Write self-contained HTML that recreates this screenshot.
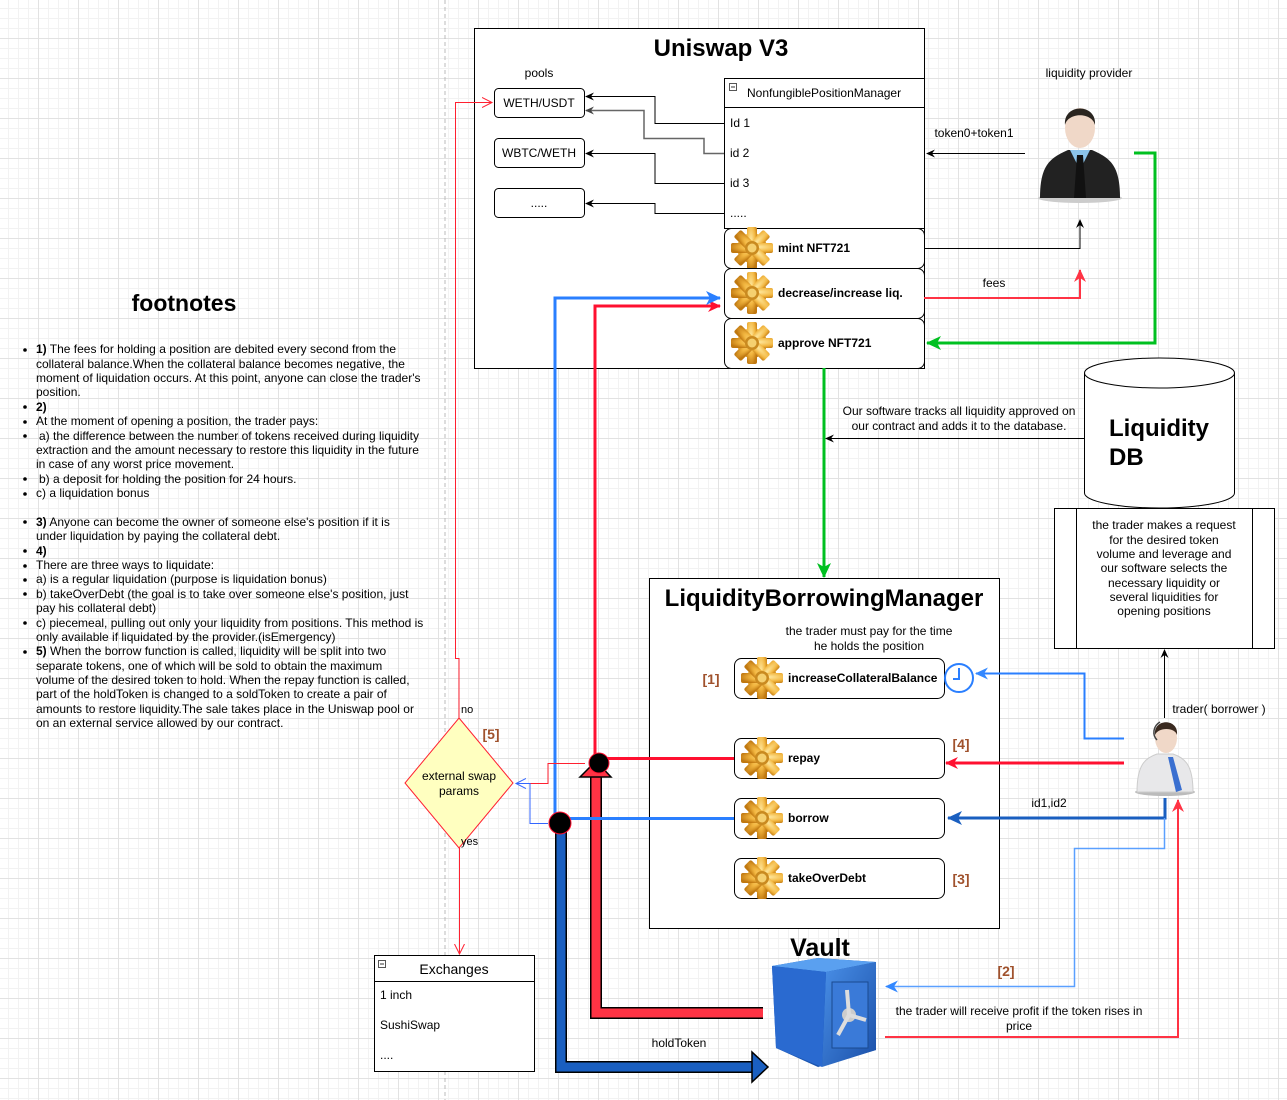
<!DOCTYPE html>
<html><head><meta charset="utf-8"><style>
html,body{margin:0;padding:0;}
body{width:1287px;height:1100px;overflow:hidden;background-color:#fff;
background-image:linear-gradient(#e2e2e2 1px,transparent 1px),linear-gradient(90deg,#e2e2e2 1px,transparent 1px),linear-gradient(#f2f2f2 1px,transparent 1px),linear-gradient(90deg,#f2f2f2 1px,transparent 1px);
background-size:40px 40px,40px 40px,10px 10px,10px 10px;background-position:-2px -2px;}
svg{position:absolute;left:0;top:0;font-family:"Liberation Sans",sans-serif;}
</style></head><body>
<svg width="1287" height="1100" viewBox="0 0 1287 1100">
<defs>
<radialGradient id="gg" cx="40%" cy="35%" r="70%"><stop offset="0" stop-color="#ffe9a0"/><stop offset="0.6" stop-color="#f2b640"/><stop offset="1" stop-color="#c07810"/></radialGradient>
<g id="gear">
<g fill="url(#gg)">
<circle cx="0" cy="0" r="15"/>
<rect x="-5" y="-21" width="10" height="42" rx="2"/>
<rect x="-5" y="-21" width="10" height="42" rx="2" transform="rotate(45)"/>
<rect x="-5" y="-21" width="10" height="42" rx="2" transform="rotate(90)"/>
<rect x="-5" y="-21" width="10" height="42" rx="2" transform="rotate(135)"/>
</g>
<circle cx="0" cy="0" r="7" fill="#c98a20"/><circle cx="0" cy="0" r="4.5" fill="#f5d070"/>
</g>
<marker id="ab" markerWidth="10" markerHeight="10" refX="8" refY="5" orient="auto" markerUnits="userSpaceOnUse"><path d="M0,1 L9,5 L0,9 L3,5z" fill="#000"/></marker>
<marker id="ag" markerWidth="10" markerHeight="10" refX="8" refY="5" orient="auto" markerUnits="userSpaceOnUse"><path d="M0,1 L9,5 L0,9 L3,5z" fill="#444"/></marker>
<marker id="ar" markerWidth="14" markerHeight="14" refX="12" refY="7" orient="auto" markerUnits="userSpaceOnUse"><path d="M0,1 L13,7 L0,13 L4,7z" fill="#ff1030"/></marker>
<marker id="arl" markerWidth="14" markerHeight="14" refX="12" refY="7" orient="auto" markerUnits="userSpaceOnUse"><path d="M0,1 L13,7 L0,13 L4,7z" fill="#ff3344"/></marker>
<marker id="agr" markerWidth="16" markerHeight="16" refX="14" refY="8" orient="auto" markerUnits="userSpaceOnUse"><path d="M0,1 L15,8 L0,15 L4,8z" fill="#00c020"/></marker>
<marker id="abl" markerWidth="16" markerHeight="16" refX="14" refY="8" orient="auto" markerUnits="userSpaceOnUse"><path d="M0,1 L15,8 L0,15 L4,8z" fill="#2a7fff"/></marker>
<marker id="abd" markerWidth="16" markerHeight="16" refX="14" refY="8" orient="auto" markerUnits="userSpaceOnUse"><path d="M0,1 L15,8 L0,15 L4,8z" fill="#1a5fc0"/></marker>
<marker id="abt" markerWidth="14" markerHeight="14" refX="12" refY="7" orient="auto" markerUnits="userSpaceOnUse"><path d="M0,1 L13,7 L0,13 L4,7z" fill="#3388ff"/></marker>
<marker id="open" markerWidth="12" markerHeight="12" refX="10" refY="6" orient="auto" markerUnits="userSpaceOnUse"><path d="M0,1 L10,6 L0,11" fill="none" stroke="#ff2030"/></marker>
<marker id="openb" markerWidth="12" markerHeight="12" refX="10" refY="6" orient="auto" markerUnits="userSpaceOnUse"><path d="M0,1 L10,6 L0,11" fill="none" stroke="#3366ff"/></marker>
<linearGradient id="vf" x1="0" y1="0" x2="1" y2="1"><stop offset="0" stop-color="#4a90e8"/><stop offset="1" stop-color="#1a4fa8"/></linearGradient>
</defs>

<line x1="445" y1="0" x2="445" y2="1100" stroke="#bbb" stroke-dasharray="4,3"/>

<rect x="474.5" y="28.5" width="450" height="340" fill="#fff" stroke="#000"/>
<text x="721" y="56" font-size="24" font-weight="bold" text-anchor="middle">Uniswap V3</text>
<text x="539" y="77" font-size="12" text-anchor="middle">pools</text>
<rect x="494.5" y="88.5" width="90" height="29" rx="4" fill="#fff" stroke="#000"/>
<text x="539" y="107" font-size="12" text-anchor="middle">WETH/USDT</text>
<rect x="494.5" y="138.5" width="90" height="29" rx="4" fill="#fff" stroke="#000"/>
<text x="539" y="157" font-size="12" text-anchor="middle">WBTC/WETH</text>
<rect x="494.5" y="188.5" width="90" height="29" rx="4" fill="#fff" stroke="#000"/>
<text x="539" y="207" font-size="12" text-anchor="middle">.....</text>

<rect x="724.5" y="78.5" width="200" height="150" fill="#fff" stroke="#000"/>
<line x1="724" y1="107.5" x2="924" y2="107.5" stroke="#000"/>
<rect x="729.5" y="83.5" width="7" height="7" fill="#fff" stroke="#555"/><line x1="731" y1="87" x2="735" y2="87" stroke="#333"/>
<text x="747" y="97" font-size="12">NonfungiblePositionManager</text>
<text x="730" y="127" font-size="12">Id 1</text>
<text x="730" y="157" font-size="12">id 2</text>
<text x="730" y="187" font-size="12">id 3</text>
<text x="730" y="217" font-size="12">.....</text>

<polyline points="724,123.5 655,123.5 655,96.5 586,96.5" fill="none" stroke="#000" marker-end="url(#ab)"/>
<polyline points="724,153.5 704,153.5 704,138.5 644,138.5 644,110.5 586,110.5" fill="none" stroke="#666" stroke-width="1.5" marker-end="url(#ag)"/>
<polyline points="724,183.5 655,183.5 655,153.5 586,153.5" fill="none" stroke="#000" marker-end="url(#ab)"/>
<polyline points="724,213.5 655,213.5 655,203.5 586,203.5" fill="none" stroke="#000" marker-end="url(#ab)"/>

<rect x="724.5" y="228.5" width="200" height="40" rx="7" fill="#fff" stroke="#000"/>
<use href="#gear" x="752" y="248"/>
<text x="778" y="252" font-size="12" font-weight="bold">mint NFT721</text>
<rect x="724.5" y="268.5" width="200" height="50" rx="7" fill="#fff" stroke="#000"/>
<use href="#gear" x="752" y="293"/>
<text x="778" y="297" font-size="12" font-weight="bold">decrease/increase liq.</text>
<rect x="724.5" y="318.5" width="200" height="50" rx="7" fill="#fff" stroke="#000"/>
<use href="#gear" x="752" y="343"/>
<text x="778" y="347" font-size="12" font-weight="bold">approve NFT721</text>

<text x="1089" y="77" font-size="12" text-anchor="middle">liquidity provider</text>
<g>
<ellipse cx="1080" cy="198" rx="42" ry="5" fill="#ccc"/>
<path d="M1040,198 C1040,165 1050,158 1068,150 L1092,150 C1110,158 1120,165 1120,198z" fill="#222"/>
<path d="M1070,150 L1080,170 L1090,150z" fill="#8cc4ea"/>
<path d="M1077,155 L1083,155 L1086,198 L1074,198z" fill="#111"/>
<ellipse cx="1080" cy="128" rx="15" ry="20" fill="#f0d8c8"/>
<path d="M1065,125 C1063,103 1097,103 1095,125 C1092,112 1068,112 1065,125z" fill="#2a2520"/>
</g>
<text x="974" y="137" font-size="12" text-anchor="middle">token0+token1</text>
<line x1="1025" y1="153.5" x2="927" y2="153.5" stroke="#000" marker-end="url(#ab)"/>
<polyline points="924,248.5 1080,248.5 1080,220" fill="none" stroke="#000" marker-end="url(#ab)"/>
<text x="994" y="287" font-size="12" text-anchor="middle">fees</text>
<polyline points="924,298 1080,298 1080,270" fill="none" stroke="#ff3344" stroke-width="2" marker-end="url(#arl)"/>
<polyline points="1134,153 1155,153 1155,343 927,343" fill="none" stroke="#00c020" stroke-width="3" marker-end="url(#agr)"/>
<line x1="824" y1="368" x2="824" y2="577" stroke="#00c020" stroke-width="3" marker-end="url(#agr)"/>

<text x="959" y="415" font-size="12" text-anchor="middle">Our software tracks all liquidity approved on</text>
<text x="959" y="430" font-size="12" text-anchor="middle">our contract and adds it to the database.</text>
<line x1="1104" y1="438.5" x2="826" y2="438.5" stroke="#000" marker-end="url(#ab)"/>

<path d="M1084.5,373 L1084.5,493 A75,15 0 0 0 1234.5,493 L1234.5,373" fill="#fff" stroke="#000"/>
<ellipse cx="1159.5" cy="373" rx="75" ry="15" fill="#fff" stroke="#000"/>
<text x="1109" y="436" font-size="24" font-weight="bold">Liquidity</text>
<text x="1109" y="465" font-size="24" font-weight="bold">DB</text>

<rect x="1054.5" y="508.5" width="220" height="140" fill="#fff" stroke="#000"/>
<line x1="1076.5" y1="508" x2="1076.5" y2="648" stroke="#000"/>
<line x1="1252.5" y1="508" x2="1252.5" y2="648" stroke="#000"/>
<g font-size="12" text-anchor="middle">
<text x="1164" y="529">the trader makes a request</text>
<text x="1164" y="544">for the desired token</text>
<text x="1164" y="558">volume and leverage and</text>
<text x="1164" y="572">our software selects the</text>
<text x="1164" y="587">necessary liquidity or</text>
<text x="1164" y="601">several liquidities for</text>
<text x="1164" y="615">opening positions</text>
</g>
<line x1="1164.5" y1="718" x2="1164.5" y2="650" stroke="#000" marker-end="url(#ab)"/>

<rect x="649.5" y="578.5" width="350" height="350" fill="#fff" stroke="#000"/>
<text x="824" y="606" font-size="24" font-weight="bold" text-anchor="middle">LiquidityBorrowingManager</text>
<text x="869" y="635" font-size="12" text-anchor="middle">the trader must pay for the time</text>
<text x="869" y="650" font-size="12" text-anchor="middle">he holds the position</text>
<g font-size="14" font-weight="bold" fill="#a0522d">
<text x="711" y="684" text-anchor="middle">[1]</text>
<text x="961" y="749" text-anchor="middle">[4]</text>
<text x="961" y="884" text-anchor="middle">[3]</text>
<text x="491" y="739" text-anchor="middle">[5]</text>
<text x="1006" y="976" text-anchor="middle">[2]</text>
</g>
<rect x="734.5" y="658.5" width="210" height="40" rx="7" fill="#fff" stroke="#000"/>
<use href="#gear" x="762" y="678"/>
<text x="788" y="682" font-size="12" font-weight="bold">increaseCollateralBalance</text>
<rect x="734.5" y="738.5" width="210" height="40" rx="7" fill="#fff" stroke="#000"/>
<use href="#gear" x="762" y="758"/>
<text x="788" y="762" font-size="12" font-weight="bold">repay</text>
<rect x="734.5" y="798.5" width="210" height="40" rx="7" fill="#fff" stroke="#000"/>
<use href="#gear" x="762" y="818"/>
<text x="788" y="822" font-size="12" font-weight="bold">borrow</text>
<rect x="734.5" y="858.5" width="210" height="40" rx="7" fill="#fff" stroke="#000"/>
<use href="#gear" x="762" y="878"/>
<text x="788" y="882" font-size="12" font-weight="bold">takeOverDebt</text>

<circle cx="959" cy="678" r="14" fill="#fff" stroke="#2a7fff" stroke-width="2"/>
<polyline points="959,668 959,679 953,679" fill="none" stroke="#2a7fff" stroke-width="2"/>

<text x="1219" y="713" font-size="12" text-anchor="middle">trader( borrower )</text>
<g>
<ellipse cx="1165" cy="792" rx="30" ry="4" fill="#bbb"/>
<path d="M1137,792 C1137,765 1145,758 1157,754 L1173,754 C1185,758 1193,765 1193,792z" fill="#e8e8ea" stroke="#ccc"/>
<path d="M1168,757 L1173,757 L1182,790 L1176,792z" fill="#3a6fd0"/>
<ellipse cx="1166" cy="738" rx="11" ry="15" fill="#f0d8c8"/>
<path d="M1155,735 C1153,718 1179,718 1177,735 C1175,727 1158,727 1155,735z" fill="#3a2a20"/>
<path d="M1157,740 C1152,735 1153,726 1160,722" fill="none" stroke="#444" stroke-width="1.5"/>
</g>
<polyline points="1124,738.5 1084.5,738.5 1084.5,673.5 976,673.5" fill="none" stroke="#2a7fff" stroke-width="2" marker-end="url(#abt)"/>
<line x1="1124" y1="763" x2="946" y2="763" stroke="#ff1030" stroke-width="3" marker-end="url(#ar)"/>
<text x="1049" y="807" font-size="12" text-anchor="middle">id1,id2</text>
<polyline points="1165,798 1165,818 948,818" fill="none" stroke="#1a5fc0" stroke-width="3" marker-end="url(#abd)"/>
<polyline points="1164.5,818 1164.5,848.5 1074.5,848.5 1074.5,986.5 886,986.5" fill="none" stroke="#5aa0ff" stroke-width="1.5" marker-end="url(#abt)"/>
<polyline points="885,1037 1178,1037 1178,800" fill="none" stroke="#ff3344" stroke-width="2" marker-end="url(#arl)"/>
<text x="1019" y="1015" font-size="12" text-anchor="middle">the trader will receive profit if the token rises in</text>
<text x="1019" y="1030" font-size="12" text-anchor="middle">price</text>

<text x="820" y="956" font-size="25" font-weight="bold" text-anchor="middle">Vault</text>
<path d="M772,966 L818,958 L876,962 L876,1050 L818,1067 L776,1048z" fill="#1a55b0"/>
<path d="M772,966 L818,958 L876,962 L826,972z" fill="#5aa0f0"/>
<path d="M826,972 L876,962 L876,1050 L822,1067z" fill="url(#vf)"/>
<path d="M772,966 L826,972 L822,1067 L776,1048z" fill="#2a6ad0"/>
<rect x="832" y="982" width="36" height="66" fill="#3a7ad8" stroke="#1a4a90"/>
<circle cx="849" cy="1015" r="7" fill="#ccc"/>
<path d="M849,1015 L847,990 M849,1015 L838,1035 M849,1015 L866,1020" stroke="#ddd" stroke-width="4"/>

<polyline points="763,1013 596,1013 596,776" fill="none" stroke="#000" stroke-width="12"/>
<polyline points="763,1013 596,1013 596,776" fill="none" stroke="#ff3344" stroke-width="9"/>
<path d="M580,777 L596,761 L611,777z" fill="#ff3344" stroke="#000" stroke-width="1.5"/>
<polyline points="561,830 561,1067 754,1067" fill="none" stroke="#000" stroke-width="12"/>
<polyline points="561,830 561,1067 754,1067" fill="none" stroke="#1a5fc0" stroke-width="9"/>
<path d="M752,1052 L768,1067 L752,1082z" fill="#1a5fc0" stroke="#000" stroke-width="1.5"/>
<text x="679" y="1047" font-size="12" text-anchor="middle">holdToken</text>

<polyline points="734,758.5 599,758.5" stroke="#ff1030" stroke-width="3"/>
<polyline points="595,770 595,306 720,306" fill="none" stroke="#ff1030" stroke-width="3" marker-end="url(#ar)"/>
<polyline points="734,818.5 560,818.5" stroke="#2a7fff" stroke-width="3"/>
<polyline points="555,818 555,298 720,298" fill="none" stroke="#2a7fff" stroke-width="3" marker-end="url(#abl)"/>
<polyline points="585,763.5 548,763.5 548,783.5 516,783.5" fill="none" stroke="#ff2030" stroke-width="1"/>
<polyline points="548,823.5 530,823.5 530,783.5 516,783.5" fill="none" stroke="#3366ff" stroke-width="1" marker-end="url(#openb)"/>
<circle cx="599" cy="763" r="10" fill="#000" stroke="#ff1030"/>
<circle cx="560" cy="823" r="11" fill="#000" stroke="#ff1030"/>

<polygon points="459,718 513,783 459,848 405,783" fill="#ffffc0" stroke="#ff2030"/>
<text x="459" y="780" font-size="12" text-anchor="middle">external swap</text>
<text x="459" y="795" font-size="12" text-anchor="middle">params</text>
<text x="461" y="713" font-size="11">no</text>
<text x="461" y="845" font-size="11">yes</text>
<polyline points="459,718 459,658.5 455.5,658.5 455.5,102.5 492,102.5" fill="none" stroke="#ff2030" marker-end="url(#open)"/>
<line x1="459.5" y1="848" x2="459.5" y2="954" stroke="#ff2030" marker-end="url(#open)"/>

<rect x="374.5" y="955.5" width="160" height="116" fill="#fff" stroke="#000"/>
<line x1="374" y1="981.5" x2="534" y2="981.5" stroke="#000"/>
<rect x="378.5" y="960.5" width="7" height="7" fill="#fff" stroke="#555"/><line x1="380" y1="964" x2="384" y2="964" stroke="#333"/>
<text x="454" y="974" font-size="14" text-anchor="middle">Exchanges</text>
<text x="380" y="999" font-size="12">1 inch</text>
<text x="380" y="1029" font-size="12">SushiSwap</text>
<text x="380" y="1059" font-size="12">....</text>

<text x="184" y="311" font-size="23" font-weight="bold" text-anchor="middle">footnotes</text>
<g font-size="12">
<g fill="#000"><circle cx="25" cy="350" r="1.8"/><circle cx="25" cy="407" r="1.8"/><circle cx="25" cy="422" r="1.8"/><circle cx="25" cy="436" r="1.8"/><circle cx="25" cy="479" r="1.8"/><circle cx="25" cy="494" r="1.8"/><circle cx="25" cy="522" r="1.8"/><circle cx="25" cy="551" r="1.8"/><circle cx="25" cy="566" r="1.8"/><circle cx="25" cy="580" r="1.8"/><circle cx="25" cy="594" r="1.8"/><circle cx="25" cy="623" r="1.8"/><circle cx="25" cy="652" r="1.8"/></g>
<text x="36" y="353"><tspan font-weight="bold">1)</tspan> The fees for holding a position are debited every second from the</text>
<text x="36" y="368">collateral balance.When the collateral balance becomes negative, the</text>
<text x="36" y="382">moment of liquidation occurs. At this point, anyone can close the trader's</text>
<text x="36" y="396">position.</text>
<text x="36" y="411" font-weight="bold">2)</text>
<text x="36" y="425">At the moment of opening a position, the trader pays:</text>
<text x="39" y="440">a) the difference between the number of tokens received during liquidity</text>
<text x="36" y="454">extraction and the amount necessary to restore this liquidity in the future</text>
<text x="36" y="468">in case of any worst price movement.</text>
<text x="39" y="483">b) a deposit for holding the position for 24 hours.</text>
<text x="36" y="497">c) a liquidation bonus</text>
<text x="36" y="526"><tspan font-weight="bold">3)</tspan> Anyone can become the owner of someone else's position if it is</text>
<text x="36" y="540">under liquidation by paying the collateral debt.</text>
<text x="36" y="555" font-weight="bold">4)</text>
<text x="36" y="569">There are three ways to liquidate:</text>
<text x="36" y="583">a) is a regular liquidation (purpose is liquidation bonus)</text>
<text x="36" y="598">b) takeOverDebt (the goal is to take over someone else's position, just</text>
<text x="36" y="612">pay his collateral debt)</text>
<text x="36" y="627">c) piecemeal, pulling out only your liquidity from positions. This method is</text>
<text x="36" y="641">only available if liquidated by the provider.(isEmergency)</text>
<text x="36" y="655"><tspan font-weight="bold">5)</tspan> When the borrow function is called, liquidity will be split into two</text>
<text x="36" y="670">separate tokens, one of which will be sold to obtain the maximum</text>
<text x="36" y="684">volume of the desired token to hold. When the repay function is called,</text>
<text x="36" y="698">part of the holdToken is changed to a soldToken to create a pair of</text>
<text x="36" y="713">amounts to restore liquidity.The sale takes place in the Uniswap pool or</text>
<text x="36" y="727">on an external service allowed by our contract.</text>
</g>
</svg>
</body></html>
